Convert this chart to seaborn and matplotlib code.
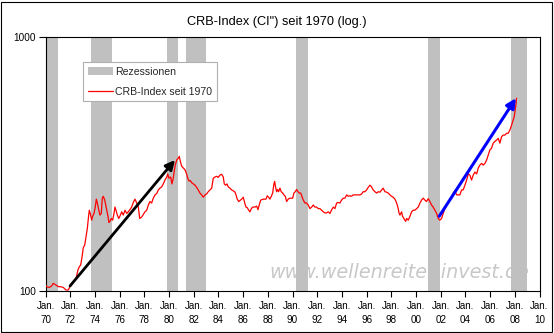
import matplotlib
matplotlib.use("Agg")
import matplotlib.pyplot as plt
import matplotlib.ticker as mticker
from matplotlib.patches import Patch, Rectangle
from matplotlib.lines import Line2D
import seaborn as sns
import pandas as pd

# ---------------- data ----------------
years = [
    1970.00, 1970.09, 1970.30, 1970.49, 1970.62, 1970.84, 1971.03, 1971.22, 1971.43, 1971.65,
    1971.84, 1972.03, 1972.24, 1972.46, 1972.62, 1972.73, 1972.84, 1972.95, 1973.05, 1973.17,
    1973.27, 1973.38, 1973.49, 1973.54, 1973.62, 1973.73, 1973.81, 1973.92, 1974.02, 1974.11,
    1974.19, 1974.30, 1974.40, 1974.51, 1974.59, 1974.67, 1974.79, 1974.87, 1974.95, 1975.05,
    1975.13, 1975.21, 1975.32, 1975.43, 1975.54, 1975.62, 1975.70, 1975.81, 1975.92, 1976.02,
    1976.16, 1976.29, 1976.43, 1976.57, 1976.70, 1976.83, 1976.97, 1977.10, 1977.24, 1977.38,
    1977.51, 1977.62, 1977.78, 1977.91, 1978.05, 1978.19, 1978.32, 1978.45, 1978.59, 1978.72,
    1978.86, 1979.00, 1979.13, 1979.26, 1979.40, 1979.53, 1979.67, 1979.81, 1979.89, 1979.99,
    1980.13, 1980.23, 1980.34, 1980.42, 1980.50, 1980.62, 1980.74, 1980.83, 1980.91, 1981.02,
    1981.15, 1981.29, 1981.42, 1981.51, 1981.61, 1981.72, 1981.83, 1981.96, 1982.10, 1982.23,
    1982.36, 1982.50, 1982.64, 1982.77, 1982.91, 1983.04, 1983.17, 1983.31, 1983.45, 1983.58,
    1983.72, 1983.85, 1983.98, 1984.12, 1984.26, 1984.39, 1984.47, 1984.58, 1984.69, 1984.79,
    1984.93, 1985.07, 1985.20, 1985.34, 1985.42, 1985.52, 1985.64, 1985.74, 1985.88, 1986.01,
    1986.15, 1986.23, 1986.33, 1986.45, 1986.55, 1986.66, 1986.77, 1986.96, 1987.09, 1987.20,
    1987.30, 1987.42, 1987.63, 1987.85, 1987.95, 1988.06, 1988.17, 1988.28, 1988.39, 1988.49,
    1988.55, 1988.63, 1988.71, 1988.79, 1988.87, 1988.98, 1989.08, 1989.20, 1989.30, 1989.41,
    1989.52, 1989.65, 1989.79, 1990.01, 1990.11, 1990.22, 1990.33, 1990.44, 1990.54, 1990.66,
    1990.76, 1990.87, 1991.00, 1991.14, 1991.27, 1991.41, 1991.55, 1991.68, 1991.81, 1991.95,
    1992.08, 1992.22, 1992.36, 1992.49, 1992.62, 1992.76, 1992.89, 1993.03, 1993.17, 1993.30,
    1993.43, 1993.57, 1993.70, 1993.84, 1993.97, 1994.11, 1994.24, 1994.38, 1994.51, 1994.65,
    1994.78, 1994.91, 1995.19, 1995.46, 1995.59, 1995.72, 1995.86, 1996.00, 1996.13, 1996.27,
    1996.40, 1996.53, 1996.67, 1996.81, 1996.94, 1997.08, 1997.21, 1997.34, 1997.48, 1997.62,
    1997.75, 1997.89, 1998.02, 1998.15, 1998.29, 1998.43, 1998.56, 1998.62, 1998.70, 1998.83,
    1998.91, 1999.04, 1999.16, 1999.24, 1999.37, 1999.51, 1999.64, 1999.77, 1999.91, 2000.05,
    2000.18, 2000.32, 2000.45, 2000.58, 2000.72, 2000.85, 2000.99, 2001.12, 2001.26, 2001.39,
    2001.53, 2001.67, 2001.80, 2001.93, 2002.07, 2002.20, 2002.34, 2002.48, 2002.61, 2002.74,
    2002.88, 2003.01, 2003.15, 2003.29, 2003.42, 2003.55, 2003.69, 2003.82, 2003.96, 2004.10,
    2004.23, 2004.36, 2004.50, 2004.63, 2004.77, 2004.91, 2005.04, 2005.17, 2005.31, 2005.44,
    2005.58, 2005.72, 2005.85, 2005.98, 2006.12, 2006.25, 2006.39, 2006.53, 2006.66, 2006.79,
    2006.93, 2007.06, 2007.20, 2007.34, 2007.47, 2007.60, 2007.74, 2007.87, 2007.95, 2008.01,
    2008.09, 2008.14,
]
crb_values = [
    105.6, 104, 103.3, 104.7, 107.2, 105.6, 104, 104, 103.3, 100.9,
    100.9, 105.6, 109, 111.6, 121, 124.6, 126.6, 136, 148, 151.7,
    163.5, 176.6, 199, 208, 201.7, 190, 197, 202, 214, 230,
    222, 209, 199, 202, 232, 236, 228, 218, 208, 197,
    186, 188, 193, 190, 202, 214, 208, 199, 193, 197,
    205, 199, 208, 202, 205, 209, 214, 223, 230, 222,
    214, 193, 195.5, 200, 205, 208, 218, 225, 222, 232,
    239, 242, 250, 254, 257, 264, 273.5, 281, 289, 278,
    281, 264, 278, 297, 313, 328, 333, 339, 324, 310,
    305, 300, 289, 278, 271, 272, 267, 264, 261, 256,
    250, 243, 239, 234, 239, 241, 246, 250, 254, 278,
    281, 283, 280, 286, 288, 281, 264, 261, 264, 257,
    254, 250, 248, 245, 239, 230, 225, 227, 230, 234,
    220, 214, 213, 208, 205, 211, 214, 214, 216, 209,
    218, 228, 230, 230, 237, 234, 230, 236, 243, 264,
    270, 256, 246, 251, 246, 254, 246, 243, 239, 236,
    225, 230, 232, 232, 243, 246, 251, 246, 243, 243,
    236, 228, 222, 222, 218, 211, 214, 218, 214, 214,
    211, 211, 208, 205, 203, 203, 205, 202, 209, 214,
    211, 222, 223, 222, 228, 232, 232, 239, 236, 237,
    236, 239, 239, 239, 241, 246, 246, 250, 256, 261,
    257, 250, 246, 243, 246, 245, 250, 254, 246, 245,
    243, 239, 236, 234, 230, 222, 211, 203, 199, 205,
    197, 192, 188, 193, 190, 197, 205, 208, 208, 211,
    214, 222, 228, 232, 228, 225, 231, 225, 218, 214,
    208, 202, 193, 190, 193, 202, 211, 218, 222, 228,
    232, 243, 248, 239, 239, 239, 250, 250, 261, 273.5,
    289, 286, 273.5, 286, 294, 289, 305, 313, 318, 313,
    318, 328, 343, 359, 365, 382, 388, 393, 399, 382,
    405, 411, 411, 418, 418, 430, 450, 471, 485, 507,
    540, 574,
]
recession_start = [1970.09, 1973.68, 1979.81, 1981.37, 1990.27, 2000.99, 2007.66]
recession_end = [1970.98, 1975.35, 1980.70, 1982.96, 1991.22, 2001.93, 2008.96]

black_arrow_from = (1971.98, 104.7)
black_arrow_to = (1980.48, 328)
blue_arrow_from = (2001.88, 197)
blue_arrow_to = (2008.09, 574)

tick_years = list(range(1970, 2011, 2))
tick_labels = [f"Jan.\n{y % 100:02d}" for y in tick_years]

title = 'CRB-Index (CI") seit 1970 (log.)'
legend_labels = ["Rezessionen", "CRB-Index seit 1970"]
watermark = "www.wellenreiter-invest.de"

# ---------------- style ----------------
sns.set_theme(style="white")
plt.rcParams["font.family"] = ["Liberation Sans", "DejaVu Sans"]

W, H = 554, 333
fig = plt.figure(figsize=(W / 100, H / 100), dpi=100)
fig.patch.set_facecolor("white")
left, right, top, bottom = 45.6, 539.5, 37, 291
ax = fig.add_axes([left / W, 1 - bottom / H, (right - left) / W, (bottom - top) / H])
ax.set_facecolor("white")

df = pd.DataFrame({"year": years, "value": crb_values})

# watermark (behind bars)
ax.text(0.4523, 0.052, watermark, transform=ax.transAxes, fontsize=13.8,
        family="DejaVu Sans", style="italic", color="#c8c8c8", ha="left",
        va="baseline", zorder=0)

for s, e in zip(recession_start, recession_end):
    ax.axvspan(s, e, color="#c0c0c0", lw=0, zorder=1)

sns.lineplot(data=df, x="year", y="value", color="#ff0000", lw=0.9, ax=ax, zorder=3)

ax.annotate("", xy=black_arrow_to, xytext=black_arrow_from,
            arrowprops=dict(arrowstyle="-|>", color="black", lw=2.0,
                            mutation_scale=14, shrinkA=0, shrinkB=0), zorder=4)
ax.annotate("", xy=blue_arrow_to, xytext=blue_arrow_from,
            arrowprops=dict(arrowstyle="-|>", color="#0000ff", lw=2.2,
                            mutation_scale=14, shrinkA=0, shrinkB=0), zorder=4)

ax.set_yscale("log")
ax.set_ylim(100, 1000)
ax.set_xlim(1970, 2010)
ax.set_yticks([100, 1000])
ax.set_yticklabels(["100", "1000"])
ax.yaxis.set_minor_locator(mticker.NullLocator())
ax.set_xticks(tick_years)
ax.set_xticklabels(tick_labels, linespacing=1.5)
ax.set_xlabel("")
ax.set_ylabel("")

ax.tick_params(axis="x", direction="out", length=4, width=0.8, color="black",
               labelsize=7.1, pad=3.5, bottom=True, labelcolor="black")
ax.tick_params(axis="y", direction="out", length=5, width=0.8, color="black",
               labelsize=7.2, pad=2, left=True, labelcolor="black")
for sp in ax.spines.values():
    sp.set_visible(True)
    sp.set_color("black")
    sp.set_linewidth(0.8)
ax.grid(False)

fig.text(277 / W, 1 - 22 / H, title, ha="center", va="center", fontsize=9.2,
         color="black")

handles = [Patch(facecolor="#c0c0c0", edgecolor="none"),
           Line2D([0], [0], color="#ff0000", lw=0.9)]
leg = ax.legend(handles, legend_labels, loc="upper left",
                bbox_to_anchor=(0.0763, 0.900), borderaxespad=0, fontsize=7.6,
                frameon=True, fancybox=False, edgecolor="#b0b0b0",
                facecolor="white", framealpha=1, handlelength=2.4,
                handleheight=0.9, handletextpad=0.25, labelspacing=1.0,
                borderpad=0.4)
leg.get_frame().set_linewidth(0.8)
leg.set_zorder(5)

fig.patches.append(Rectangle((1 / W, 1 / H), (W - 3) / W, (H - 3) / H,
                             transform=fig.transFigure, fill=False,
                             edgecolor="black", lw=0.8))

fig.savefig("out.png", dpi=100, facecolor="white")
